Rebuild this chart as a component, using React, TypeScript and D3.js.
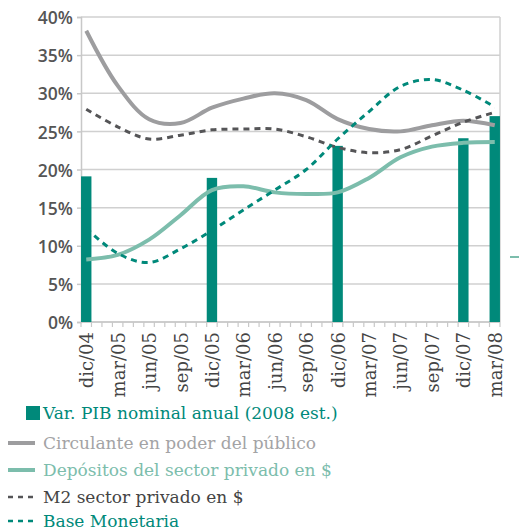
import React, { useEffect, useRef } from 'react';
import * as d3 from 'd3';

// quarterly tick labels (month index 0 = dic/04, 39 = mar/08)
const quarterLabels = ["dic/04", "mar/05", "jun/05", "sep/05", "dic/05", "mar/06", "jun/06", "sep/06", "dic/06", "mar/07", "jun/07", "sep/07", "dic/07", "mar/08"];
const quarterMonths = [0, 3, 6, 9, 12, 15, 18, 21, 24, 27, 30, 33, 36, 39];

const barLabels = ["dic/04", "dic/05", "dic/06", "dic/07", "mar/08"];
const barMonths = [0, 12, 24, 36, 39];
const pibValues = [19.1, 18.9, 23.1, 24.1, 27.0];

const circulante = [38.2, 31.0, 26.6, 26.1, 28.1, 29.3, 30.0, 29.1, 26.6, 25.3, 25.0, 25.8, 26.4, 25.8];
const depositos = [8.2, 8.8, 10.8, 14.0, 17.3, 17.8, 17.0, 16.8, 17.0, 18.9, 21.6, 23.0, 23.5, 23.6];
const m2 = [27.9, 25.6, 24.0, 24.5, 25.2, 25.3, 25.3, 24.3, 22.9, 22.2, 22.6, 24.4, 26.2, 27.5];
const baseMonetaria = [12.3, 9.0, 7.8, 9.6, 12.0, 14.7, 17.3, 20.0, 24.0, 27.6, 30.9, 31.8, 30.4, 28.2];

const yTicks = [0, 5, 10, 15, 20, 25, 30, 35, 40];

const serif = "'DejaVu Serif', 'Liberation Serif', serif";

const App = () => {
  const ref = useRef(null);

  useEffect(() => {
    const svg = d3.select(ref.current);
    svg.selectAll("*").remove();

    const left = 81, right = 500, top = 17, bottom = 322;
    const x = d3.scaleLinear().domain([-0.5, 39.5]).range([left, right]);
    const y = d3.scaleLinear().domain([0, 40]).range([bottom, top]);

    // grid
    svg.append("g").selectAll("line").data(yTicks).enter().append("line")
      .attr("x1", left).attr("x2", right)
      .attr("y1", d => y(d)).attr("y2", d => y(d))
      .attr("stroke", "#d0d0d0").attr("stroke-width", 1.5);
    svg.append("line").attr("x1", right).attr("x2", right).attr("y1", top).attr("y2", bottom)
      .attr("stroke", "#d0d0d0").attr("stroke-width", 1.5);

    // y axis
    const yAxis = svg.append("g").attr("transform", `translate(${left},0)`)
      .call(d3.axisLeft(y).tickValues(yTicks).tickFormat(d => `${d}%`).tickSize(4).tickPadding(4));
    yAxis.select(".domain").attr("stroke", "#c8c8c8").attr("stroke-width", 1.5);
    yAxis.selectAll(".tick line").attr("stroke", "#c8c8c8").attr("stroke-width", 1.5);
    yAxis.selectAll("text").attr("fill", "#555").attr("dy", "0.38em")
      .style("font-family", "'Open Sans', sans-serif")
      .style("font-size", "17.5px").style("font-weight", "600");

    // x axis: monthly ticks, quarterly labels
    const xg = svg.append("g");
    xg.append("line").attr("x1", left).attr("x2", right).attr("y1", bottom).attr("y2", bottom)
      .attr("stroke", "#c8c8c8").attr("stroke-width", 1.5);
    xg.selectAll("line.tk").data(d3.range(41)).enter().append("line").attr("class", "tk")
      .attr("x1", d => x(d - 0.5)).attr("x2", d => x(d - 0.5))
      .attr("y1", bottom).attr("y2", bottom + 5)
      .attr("stroke", "#c8c8c8").attr("stroke-width", 1.2);
    xg.selectAll("text").data(quarterLabels).enter().append("text")
      .attr("transform", (d, i) => `translate(${x(quarterMonths[i]) + 7},${bottom + 10}) rotate(-90)`)
      .attr("text-anchor", "end")
      .attr("fill", "#444")
      .style("font-family", serif)
      .style("font-size", "18px")
      .text(d => d);

    // bars
    svg.append("g").selectAll("rect").data(pibValues).enter().append("rect")
      .attr("x", (d, i) => x(barMonths[i]) - 5.2)
      .attr("width", 10.4)
      .attr("y", d => y(d))
      .attr("height", d => bottom - y(d))
      .attr("fill", "#00897a");

    const line = d3.line()
      .x((d, i) => x(quarterMonths[i]))
      .y(d => y(d))
      .curve(d3.curveCatmullRom.alpha(0.5));

    svg.append("path").datum(circulante).attr("d", line)
      .attr("fill", "none").attr("stroke", "#9d9d9f").attr("stroke-width", 4);
    svg.append("path").datum(depositos).attr("d", line)
      .attr("fill", "none").attr("stroke", "#7cbdac").attr("stroke-width", 4);
    svg.append("path").datum(m2).attr("d", line)
      .attr("fill", "none").attr("stroke", "#555557").attr("stroke-width", 3)
      .attr("stroke-dasharray", "6,5");
    svg.append("path").datum(baseMonetaria).attr("d", line)
      .attr("fill", "none").attr("stroke", "#00897a").attr("stroke-width", 3)
      .attr("stroke-dasharray", "6,5");

    // stray legend mark cut at right edge
    svg.append("line").attr("x1", 510).attr("x2", 519).attr("y1", 257).attr("y2", 257)
      .attr("stroke", "#7cbdac").attr("stroke-width", 2);

    // legend
    const legend = [
      { label: "Var. PIB nominal anual (2008 est.)", color: "#00897a", text: "#00897a", type: "rect", y: 413 },
      { label: "Circulante en poder del público", color: "#9d9d9f", text: "#a3a3a5", type: "solid", y: 443 },
      { label: "Depósitos del sector privado en $", color: "#7cbdac", text: "#7cbdac", type: "solid", y: 470 },
      { label: "M2 sector privado en $", color: "#555557", text: "#444", type: "dash", y: 497 },
      { label: "Base Monetaria", color: "#00897a", text: "#00897a", type: "dash", y: 521 },
    ];
    const lg = svg.append("g");
    legend.forEach(l => {
      if (l.type === "rect") {
        lg.append("rect").attr("x", 26).attr("y", l.y - 7).attr("width", 14).attr("height", 14).attr("fill", l.color);
      } else {
        lg.append("line").attr("x1", 8).attr("x2", 35).attr("y1", l.y).attr("y2", l.y)
          .attr("stroke", l.color).attr("stroke-width", l.type === "solid" ? 4 : 2.5)
          .attr("stroke-dasharray", l.type === "dash" ? "5,5" : null);
      }
      lg.append("text").attr("x", 43).attr("y", l.y + 6)
        .attr("fill", l.text)
        .style("font-family", serif)
        .style("font-size", "17px")
        .text(l.label);
    });
  }, []);

  return (
    <svg ref={ref} width={519} height={532}
      style={{ position: "absolute", left: 0, top: 0, background: "#fff" }} />
  );
};

export default App;
